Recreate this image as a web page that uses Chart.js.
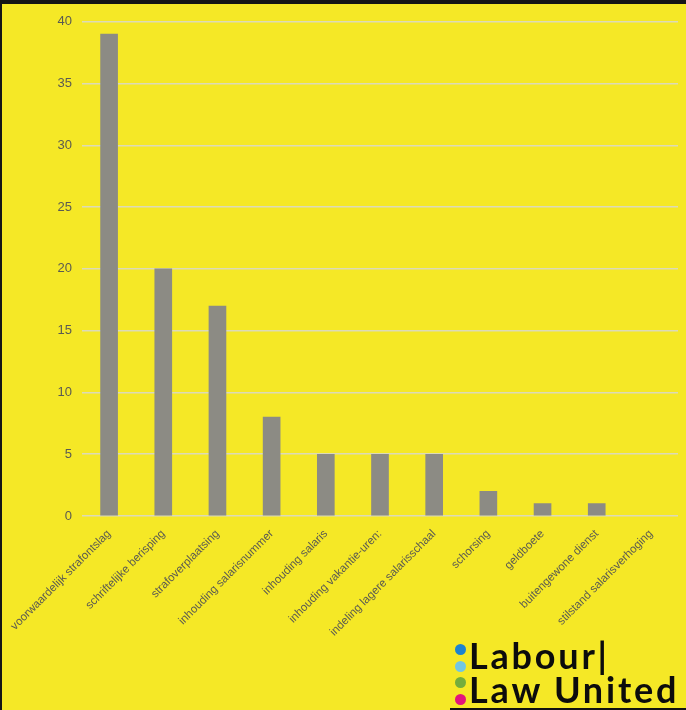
<!DOCTYPE html>
<html>
<head>
<meta charset="utf-8">
<script src="https://cdn.jsdelivr.net/npm/chart.js@4/dist/chart.umd.min.js"></script>
<style>
  html, body { margin:0; padding:0; background:#f5e826; }
  #wrap { position:relative; width:684px; height:706px; border-top:4px solid #151515; border-left:2px solid #151515; background:#f5e826; }
  #logo { position:absolute; left:448px; top:630px; width:236px; height:74px; border-bottom:2px solid #111; font-family:"Lato","Noto Sans",sans-serif; font-weight:700; color:#0c0c0c; }
  .dot { position:absolute; left:5px; width:11px; height:11px; border-radius:50%; }
  .ln { position:absolute; left:19px; font-size:36px; line-height:36px; letter-spacing:2.8px; white-space:nowrap; }
</style>
</head>
<body>
<div id="wrap">
  <canvas id="bar" width="684" height="706"></canvas>
  <div id="logo">
    <div class="dot" style="top:10px;background:#1d83cf"></div>
    <div class="dot" style="top:27px;background:#72c6e4"></div>
    <div class="dot" style="top:43px;background:#74ad3c"></div>
    <div class="dot" style="top:60px;background:#e3157c"></div>
    <div class="ln" style="top:3px">Labour|</div>
    <div class="ln" style="top:37px">Law United</div>
  </div>
</div>
<script>
const categories = ["voorwaardelijk strafontslag", "schriftelijke berisping", "strafoverplaatsing",
  "inhouding salarisnummer", "inhouding salaris", "inhouding vakantie-uren:",
  "indeling lagere salarisschaal", "schorsing", "geldboete", "buitengewone dienst",
  "stilstand salarisverhoging"];
const counts = [39, 20, 17, 8, 5, 5, 5, 2, 1, 1, 0];
const yTicks = [0, 5, 10, 15, 20, 25, 30, 35, 40];

const txt = "#5a5a52";
const ctx = document.getElementById("bar").getContext("2d");
new Chart(ctx, {
  type: "bar",
  data: {
    labels: categories,
    datasets: [{
      data: counts,
      // a zero bar leaves a hairline, keep it invisible
      backgroundColor: c => c.raw ? "#8c8b84" : "rgba(0,0,0,0)",
      borderWidth: 0
    }]
  },
  options: {
    responsive: false,
    animation: false,
    layout: { padding: { top: 17, right: 8, left: 0, bottom: 0 } },
    plugins: { legend: { display: false }, tooltip: { enabled: false } },
    barThickness: 17,
    scales: {
      x: {
        grid: { display: false },
        border: { display: false },
        ticks: { color: txt, font: { family: "Liberation Sans", size: 11.5 }, minRotation: 45, maxRotation: 45, autoSkip: false, padding: 3 },
        afterFit: s => { s.height = 194; }
      },
      y: {
        min: 0, max: 40,
        afterBuildTicks: s => { s.ticks = yTicks.map(v => ({ value: v })); },
        grid: { color: "#dcdab8", lineWidth: 1.5, drawTicks: false },
        border: { display: false },
        ticks: { color: txt, font: { family: "Liberation Sans", size: 13 }, padding: 10 },
        afterFit: s => { s.width = 80; }
      }
    }
  }
});
</script>
</body>
</html>
